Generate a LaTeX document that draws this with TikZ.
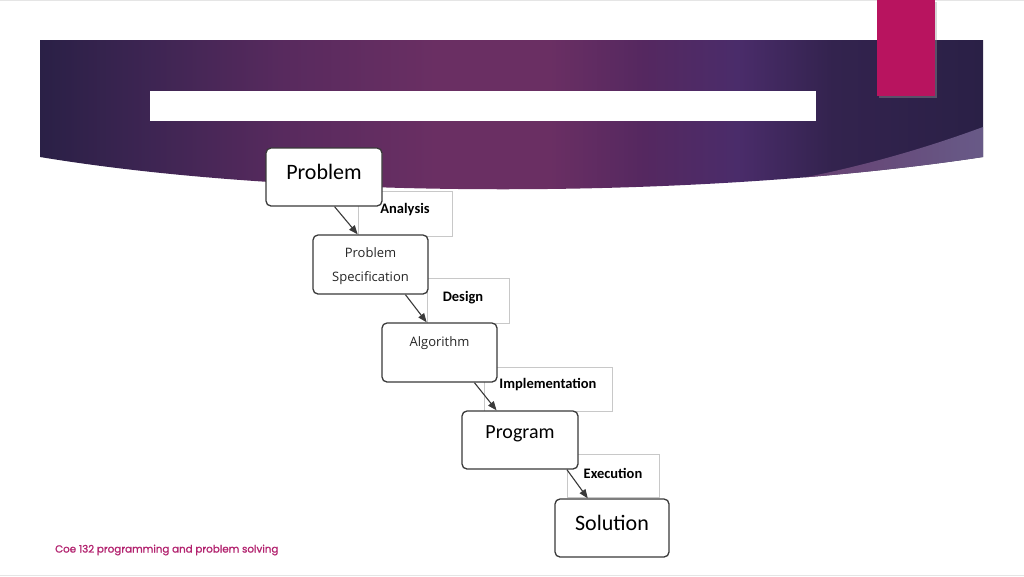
\documentclass[tikz,border=0pt]{standalone}
\usepackage{fontspec}
\setmainfont{Carlito}
\newfontfamily\labfont{Carlito}
\newfontfamily\thinfont{Open Sans}
\newfontfamily\footfont[FakeBold=1.2]{Poppins}
\usetikzlibrary{arrows.meta,calc}
\definecolor{bnA}{HTML}{2A2046}
\definecolor{bnB}{HTML}{3E2553}
\definecolor{bnC}{HTML}{582A5E}
\definecolor{bnD}{HTML}{6A2F63}
\definecolor{bnE}{HTML}{552860}
\definecolor{bnF}{HTML}{4A2C6A}
\definecolor{bnG}{HTML}{33234E}
\definecolor{lav}{HTML}{6F6290}
\definecolor{pinkbar}{HTML}{B8145F}
\definecolor{foot}{HTML}{B3236F}
\definecolor{boxline}{HTML}{3A3A3A}
\definecolor{labline}{HTML}{C8C8C8}
\pgfdeclarehorizontalshading{banner}{100bp}{%
  color(0bp)=(bnA); color(25bp)=(bnA); color(31bp)=(bnB); color(38bp)=(bnC);
  color(46bp)=(bnD); color(52bp)=(bnD); color(57bp)=(bnE); color(62bp)=(bnF);
  color(67bp)=(bnG); color(75bp)=(bnA); color(100bp)=(bnA)}
\tikzset{
  mainbox/.style={draw=boxline, line width=1.3pt, rounded corners=5pt, fill=white, inner sep=0pt},
  labbox/.style={draw=labline, line width=0.6pt, fill=white, inner sep=0pt},
  labtext/.style={font=\labfont\bfseries\fontsize{14.5}{16}\selectfont, text=black, inner sep=0pt},
  bigtext/.style={font=\fontsize{22}{26}\selectfont, text=black, inner sep=0pt},
  thintext/.style={font=\thinfont\fontsize{13}{24}\selectfont, text=black!85, inner sep=0pt, align=center},
  flow/.style={draw=boxline, line width=1.1pt, -{Triangle[length=9pt,width=7pt]}}
}
\begin{document}
\begin{tikzpicture}[x=1pt,y=-1pt]
\useasboundingbox (0,0) rectangle (1024,576);
\fill[white] (0,0) rectangle (1024,576);
\draw[black!10, line width=1pt] (0,0.5) -- (1024,0.5);
\draw[black!10, line width=1pt] (0,575) -- (1024,575);
% banner
\shade[shading=banner] (40,40) -- (983,40) -- (983,157) .. controls (700,200) and (300,200) .. (40,157) -- cycle;
\begin{scope}
  \clip (40,40) -- (983,40) -- (983,157) .. controls (700,200) and (300,200) .. (40,157) -- cycle;
  \shade[left color=bnD, right color=lav, opacity=0.9] (983,127) .. controls (880,165) and (780,186) .. (680,196) -- (990,210) -- (990,127) -- cycle;
\end{scope}
% title white bar and pink bar
\fill[white] (150,91) rectangle (816,121);
\fill[black!40, opacity=0.4] (879,2) rectangle (937,98);
\fill[pinkbar] (877,0) rectangle (935,96);
% label boxes (behind)
\node[labbox, minimum width=94pt, minimum height=45pt] (la) at (405,213.5) {};
\node[labbox, minimum width=82pt, minimum height=45pt] (ld) at (468,300.5) {};
\node[labbox, minimum width=128pt, minimum height=44pt] (li) at (548,389) {};
\node[labbox, minimum width=92pt, minimum height=43pt] (le) at (613,475.5) {};
\node[labtext] (lat) at (405,210) {Analysis};
\node[labtext] (ldt) at (463,298) {Design};
\node[labtext] (lit) at (548,385) {Implementation};
\node[labtext] (let) at (613,473) {Execution};
% main boxes
\node[mainbox, minimum width=116pt, minimum height=58pt] (b1) at (324,177) {};
\node[mainbox, minimum width=115pt, minimum height=59pt] (b2) at (370.5,264.5) {};
\node[mainbox, minimum width=115pt, minimum height=59pt] (b3) at (439.5,352.5) {};
\node[mainbox, minimum width=116pt, minimum height=58pt] (b4) at (520,440) {};
\node[mainbox, minimum width=114pt, minimum height=58pt] (b5) at (612,528) {};
\node[bigtext] (t1) at (324,172) {Problem};
\node[thintext] (t2) at (370.5,266) {Problem\\Specification};
\node[thintext] (t3) at (439.5,343) {Algorithm};
\node[bigtext, font=\fontsize{20}{24}\selectfont] (t4) at (520,434) {Program};
\node[bigtext] (t5) at (612,523) {Solution};
% arrows
\draw[flow] ($(b1.south west)!0.59!(b1.south east)$) -- ($(b2.north west)!0.39!(b2.north east)$);
\draw[flow] ($(b2.south west)!0.8!(b2.south east)$) -- ($(b3.north west)!0.39!(b3.north east)$);
\draw[flow] ($(b3.south west)!0.8!(b3.south east)$) -- ($(b4.north west)!0.3!(b4.north east)$);
\draw[flow] ($(b4.south west)!0.9!(b4.south east)$) -- ($(b5.north west)!0.29!(b5.north east)$);
% footer
\node[anchor=west, inner sep=0pt, font=\footfont\fontsize{10.3}{12}\selectfont, text=foot] (foot) at (55,550) {Coe 132 programming and problem solving};
\end{tikzpicture}
\end{document}
